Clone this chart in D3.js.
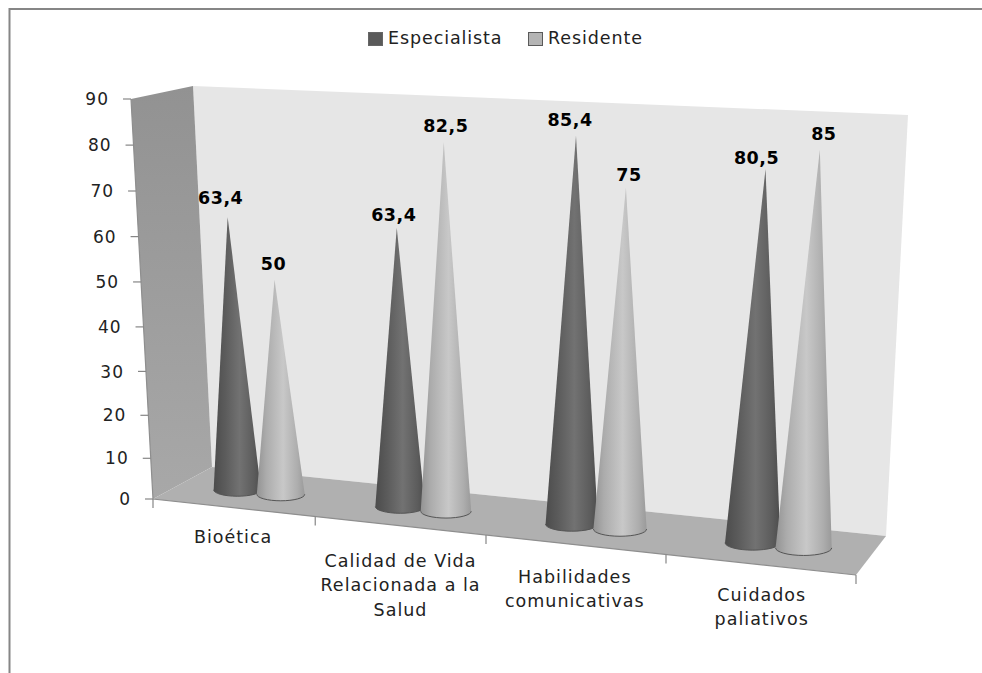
<!DOCTYPE html>
<html><head><meta charset="utf-8">
<script src="https://cdn.jsdelivr.net/npm/d3@7/dist/d3.min.js"></script>
<style>html,body{margin:0;padding:0;background:#fff}svg{display:block}text{font-family:"DejaVu Sans",sans-serif}</style>
</head><body><svg id="c" width="982" height="673"></svg>
<script>
const categories = ["Bioética","Calidad de Vida Relacionada a la Salud","Habilidades comunicativas","Cuidados paliativos"];
const categoryLines = [["Bioética"],["Calidad de Vida","Relacionada a la","Salud"],["Habilidades","comunicativas"],["Cuidados","paliativos"]];
const seriesNames = ["Especialista","Residente"];
const especialista = [63.4,63.4,85.4,80.5];
const residente = [50,82.5,75,85];
const yTicks = [0,10,20,30,40,50,60,70,80,90];

const svg = d3.select("#c");
const defs = svg.append("defs");
const W = 0.9;
const persp = u => u*W/(1+u*(W-1));
const uScale = d3.scaleBand().domain(categories).range([0,1]);
const sScale = d3.scalePoint().domain(seriesNames).range([-0.034,0.034]);
const vFrac = d3.scalePow().exponent(1.04).domain([0,90]).range([0,1]);

// scene geometry
const frontAxisBottom=[153,499], frontAxisTop=[131,99], backBL=[212,467], backTL=[193,86], backTR=[908,115], backBR=[886,536], frontBR=[856,575];
const midBL=[180,484], midTL=[163,94], midBR=[873,555], midTR=[894,129];
const lerp=(a,b,t)=>[a[0]+(b[0]-a[0])*t,a[1]+(b[1]-a[1])*t];
function project(u,v){
  const t=persp(u), f=vFrac(v);
  return lerp(lerp(midBL,midBR,t),lerp(midTL,midTR,t),f);
}
const poly=p=>"M"+p.map(d=>d.join(",")).join("L")+"Z";

// frame
svg.append("path").attr("d","M9.5,673V9H982").attr("fill","none").attr("stroke","#868686").attr("stroke-width",2);

// gradients
const wallG=defs.append("linearGradient").attr("id","wall").attr("x1",0).attr("y1",0).attr("x2",0).attr("y2",1);
wallG.append("stop").attr("offset",0).attr("stop-color","#929292");
wallG.append("stop").attr("offset",1).attr("stop-color","#a8a8a8");
const coneStops=[
 [[0,"#4c4c4c"],[.25,"#5c5c5c"],[.55,"#727272"],[.85,"#5c5c5c"],[1,"#4c4c4c"]],
 [[0,"#939393"],[.2,"#acacac"],[.55,"#c8c8c8"],[.85,"#adadad"],[1,"#9a9a9a"]]];
coneStops.forEach((st,i)=>{
  const g=defs.append("linearGradient").attr("id","cone"+i);
  st.forEach(s=>g.append("stop").attr("offset",s[0]).attr("stop-color",s[1]));
});

// walls
svg.append("path").attr("d",poly([backTL,backTR,backBR,backBL])).attr("fill","#e6e6e6");
svg.append("path").attr("d",poly([frontAxisTop,backTL,backBL,frontAxisBottom])).attr("fill","url(#wall)");
svg.append("path").attr("d",poly([frontAxisBottom,backBL,backBR,frontBR])).attr("fill","#b0b0b0");
svg.append("path").attr("d","M"+[frontAxisTop,frontAxisBottom,frontBR].map(d=>d.join(",")).join("L")).attr("fill","none").attr("stroke","#8e8e8e").attr("stroke-width",1.2);

// y axis
const axisPt=v=>lerp(frontAxisBottom,frontAxisTop,vFrac(v));
yTicks.forEach(v=>{
  const p=axisPt(v);
  svg.append("line").attr("x1",p[0]-8).attr("x2",p[0]).attr("y1",p[1]).attr("y2",p[1]).attr("stroke","#868686").attr("stroke-width",1.2);
  svg.append("text").attr("x",p[0]-22).attr("y",p[1]).attr("dy","0.36em").attr("text-anchor","end").attr("font-size",17).attr("letter-spacing",1).attr("fill","#222").text(v);
});

// category ticks and labels
const edgePt=u=>lerp(frontAxisBottom,frontBR,persp(u));
d3.range(0,categories.length+1).forEach(i=>{
  const p=edgePt(i/categories.length);
  svg.append("line").attr("x1",p[0]).attr("x2",p[0]).attr("y1",p[1]).attr("y2",p[1]+9).attr("stroke","#868686").attr("stroke-width",1.2);
});
const labelNudge=[0,1,0,2];
const labelDrop=[35,41,38,36];
categories.forEach((c,i)=>{
  const p=edgePt(uScale(c)+uScale.bandwidth()/2);
  const t=svg.append("text").attr("text-anchor","middle").attr("font-size",17.5).attr("letter-spacing",1).attr("fill","#222");
  categoryLines[i].forEach((l,k)=>t.append("tspan").attr("x",p[0]+labelNudge[i]).attr("y",p[1]+labelDrop[i]+k*24.5).text(l));
});

// cones
const seriesValues=[especialista,residente];
const valueNudge=[[-7,-3,-6,-9],[-1,2,3,4]];
const valueDrop=[[-2,4,1,6],[1,1,4,1]];
categories.forEach((c,ci)=>{
  seriesNames.forEach((s,si)=>{
    const v=seriesValues[si][ci];
    const u=uScale(c)+uScale.bandwidth()/2+sScale(s);
    const b=project(u,0), a=project(u,v);
    const hw=(project(u+0.034,0)[0]-b[0])*1.09;
    const ry=hw*0.27;
    svg.append("path")
      .attr("d",`M${b[0]-hw},${b[1]}L${a[0]},${a[1]}L${b[0]+hw},${b[1]}A${hw},${ry} 0 0 1 ${b[0]-hw},${b[1]}Z`)
      .attr("fill",`url(#cone${si})`);
    svg.append("path")
      .attr("d",`M${b[0]+hw},${b[1]}A${hw},${ry} 0 0 1 ${b[0]-hw},${b[1]}`)
      .attr("fill","none").attr("stroke","#555").attr("stroke-width",1);
    svg.append("text").attr("x",a[0]+valueNudge[si][ci]).attr("y",a[1]-11+valueDrop[si][ci]).attr("text-anchor","middle")
      .attr("font-size",17.5).attr("font-weight",700).attr("letter-spacing",0.5).attr("fill","#000").text(String(v).replace(".",","));
  });
});

// legend
const legX=[368,528], legColors=["#5a5a5a","#b4b4b4"];
seriesNames.forEach((s,i)=>{
  svg.append("rect").attr("x",legX[i]+.5).attr("y",32.5).attr("width",14).attr("height",13).attr("fill",legColors[i]).attr("stroke",i?"#5a5a5a":"#666").attr("stroke-width",1);
  svg.append("text").attr("x",legX[i]+20).attr("y",38).attr("dy","0.36em").attr("font-size",17.5).attr("letter-spacing",0.9).attr("fill","#222").text(s);
});
</script></body></html>
